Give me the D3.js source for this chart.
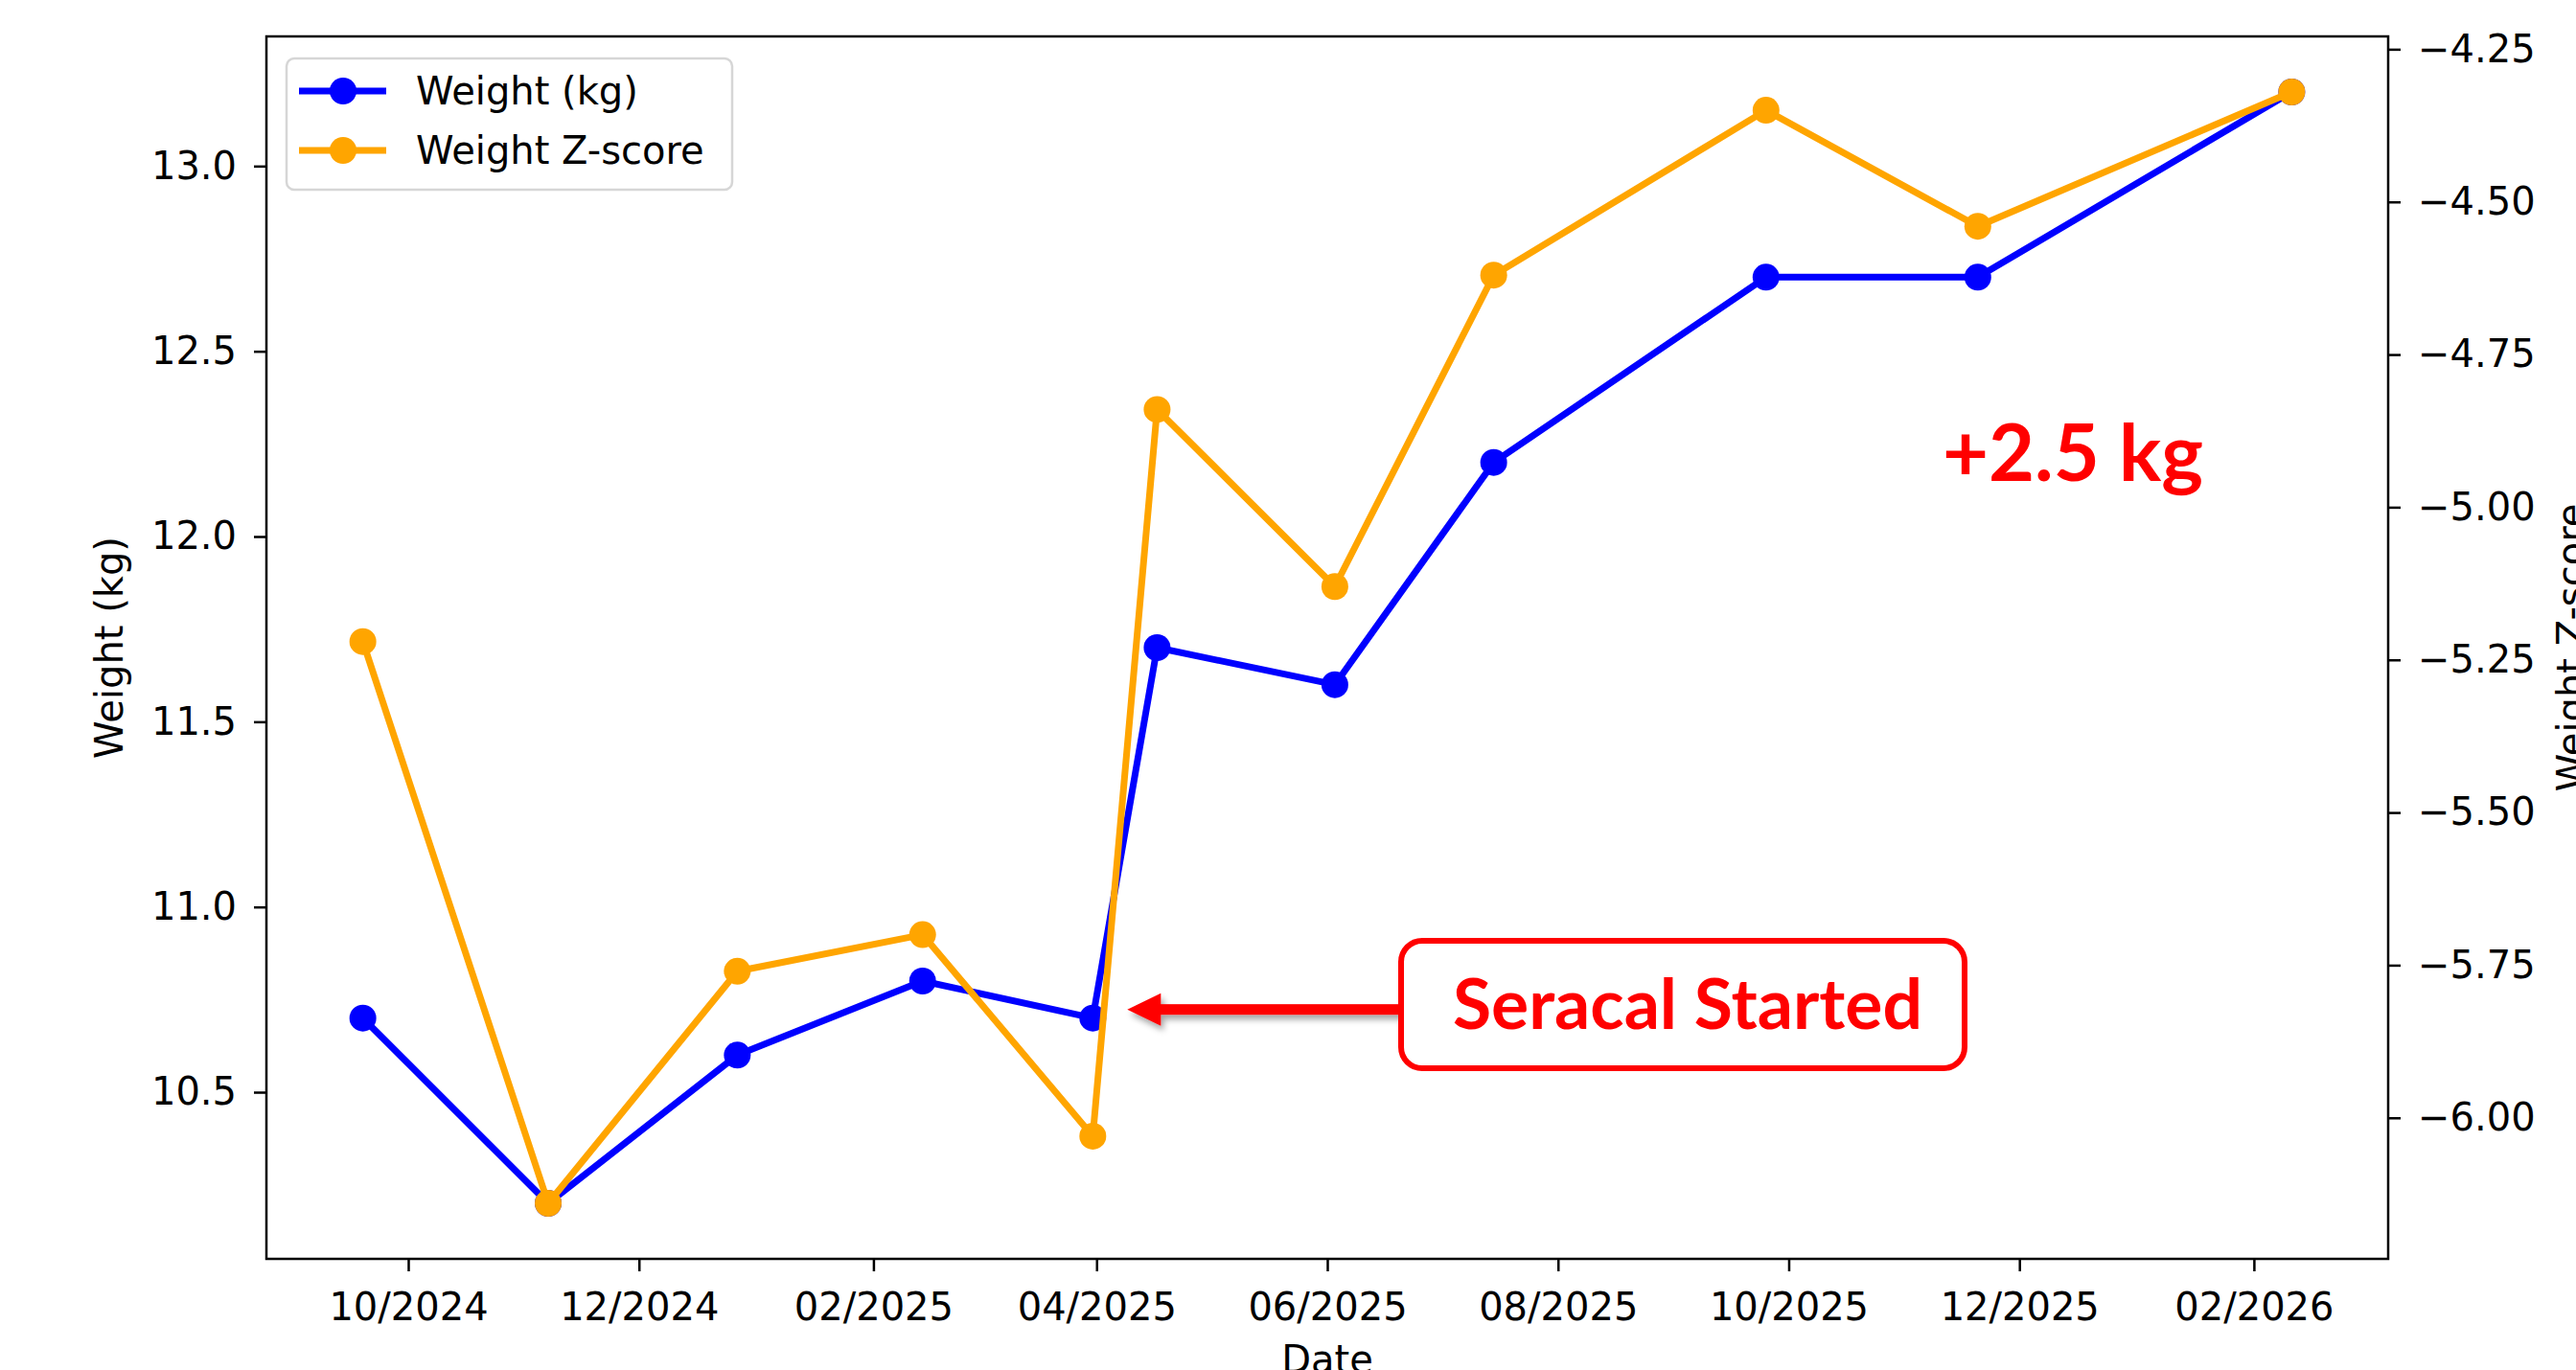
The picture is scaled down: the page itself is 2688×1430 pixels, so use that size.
<!DOCTYPE html>
<html>
<head>
    <meta charset="utf-8">
    <title>Weight chart</title>
    <script src="https://d3js.org/d3.v7.min.js"></script>
    <style>
      body { margin: 0; background: #fff; }
    </style>
</head>
<body>
    <div id="chart"></div>
    <script>

// data
const dates = ["2024-09-19", "2024-11-07", "2024-12-27", "2025-02-14", "2025-03-31", "2025-04-17",
               "2025-06-03", "2025-07-15", "2025-09-25", "2025-11-20", "2026-02-11"];
const weights = [10.7, 10.2, 10.6, 10.8, 10.7, 11.7, 11.6, 12.2, 12.7, 12.7, 13.2];
const zscores = [-5.22, -6.14, -5.76, -5.70, -6.03, -4.84, -5.13, -4.62, -4.35, -4.54, -4.32];

const xTicks = ["2024-10-01", "2024-12-01", "2025-02-01", "2025-04-01", "2025-06-01",
                "2025-08-01", "2025-10-01", "2025-12-01", "2026-02-01"];
const leftTicks = [10.5, 11.0, 11.5, 12.0, 12.5, 13.0];
const rightTicks = [-6.00, -5.75, -5.50, -5.25, -5.00, -4.75, -4.50, -4.25];
const seriesNames = ["Weight (kg)", "Weight Z-score"];
const noteText = "Seracal Started";
const gainText = "+2.5 kg";

const width = 2688, height = 1430;
const plotL = 278, plotR = 2492, plotT = 38, plotB = 1314;
const font = "DejaVu Sans, sans-serif";
const fs = 40;
const blue = "#0000ff", orange = "#ffa500", red = "#ff0000";

const parse = d3.utcParse("%Y-%m-%d");
const rows = dates.map((d, i) => ({date: parse(d), w: weights[i], z: zscores[i]}));

// matplotlib style 5% margins
function padded(ext) {
  const m = (ext[1] - ext[0]) * 0.05;
  return [ext[0] - m, ext[1] + m];
}
const tExt = d3.extent(rows, d => +d.date);
const x = d3.scaleUtc().domain(padded(tExt).map(t => new Date(t))).range([plotL, plotR]);
const y = d3.scaleLinear().domain(padded(d3.extent(weights))).range([plotB, plotT]);
const y2 = d3.scaleLinear().domain(padded(d3.extent(zscores))).range([plotB, plotT]);

const svg = d3.create("svg")
    .attr("width", width)
    .attr("height", height)
    .attr("viewBox", [0, 0, width, height])
    .attr("font-family", font);

svg.append("rect").attr("width", width).attr("height", height).attr("fill", "#fff");

const defs = svg.append("defs");
defs.append("filter").attr("id", "shadow")
    .attr("x", "-20%").attr("y", "-50%").attr("width", "140%").attr("height", "200%")
  .append("feDropShadow")
    .attr("dx", 3).attr("dy", 5).attr("stdDeviation", 3)
    .attr("flood-color", "#000").attr("flood-opacity", 0.35);

// axes
const axL = svg.append("g")
    .attr("transform", `translate(${plotL},0)`)
    .call(d3.axisLeft(y).tickValues(leftTicks).tickFormat(d3.format(".1f")).tickSize(13).tickPadding(18));
const axR = svg.append("g")
    .attr("transform", `translate(${plotR},0)`)
    .call(d3.axisRight(y2).tickValues(rightTicks).tickFormat(d3.format(".2f")).tickSize(13).tickPadding(18));
const axB = svg.append("g")
    .attr("transform", `translate(0,${plotB})`)
    .call(d3.axisBottom(x).tickValues(xTicks.map(parse)).tickFormat(d3.utcFormat("%m/%Y")).tickSize(13).tickPadding(23));

for (const ax of [axL, axR, axB]) {
  ax.select(".domain").remove();
  ax.selectAll(".tick line").attr("stroke", "#000").attr("stroke-width", 2.5);
  ax.selectAll(".tick text").attr("font-family", font).attr("font-size", fs).attr("fill", "#000");
}

// axis titles (cut by the edge, as in the source image)
svg.append("text")
    .attr("transform", `translate(128,${(plotT + plotB) / 2}) rotate(-90)`)
    .attr("text-anchor", "middle")
    .attr("font-size", fs)
    .text(seriesNames[0]);
svg.append("text")
    .attr("transform", `translate(2697,${(plotT + plotB) / 2}) rotate(-90)`)
    .attr("text-anchor", "middle")
    .attr("font-size", fs)
    .text(seriesNames[1]);
svg.append("text")
    .attr("x", (plotL + plotR) / 2)
    .attr("y", 1433)
    .attr("text-anchor", "middle")
    .attr("font-size", fs)
    .text("Date");

// series
const lineW = d3.line().x(d => x(d.date)).y(d => y(d.w));
const lineZ = d3.line().x(d => x(d.date)).y(d => y2(d.z));

svg.append("path").datum(rows)
    .attr("fill", "none").attr("stroke", blue).attr("stroke-width", 7)
    .attr("stroke-linejoin", "round")
    .attr("d", lineW);
svg.append("g").selectAll("circle").data(rows).join("circle")
    .attr("cx", d => x(d.date)).attr("cy", d => y(d.w)).attr("r", 14).attr("fill", blue);

svg.append("path").datum(rows)
    .attr("fill", "none").attr("stroke", orange).attr("stroke-width", 7)
    .attr("stroke-linejoin", "round")
    .attr("d", lineZ);
svg.append("g").selectAll("circle").data(rows).join("circle")
    .attr("cx", d => x(d.date)).attr("cy", d => y2(d.z)).attr("r", 14).attr("fill", orange);

// frame
svg.append("rect")
    .attr("x", plotL).attr("y", plotT)
    .attr("width", plotR - plotL).attr("height", plotB - plotT)
    .attr("fill", "none").attr("stroke", "#000").attr("stroke-width", 2.5);

// legend
const lg = svg.append("g");
lg.append("rect")
    .attr("x", 299).attr("y", 61).attr("width", 465).attr("height", 137).attr("rx", 8)
    .attr("fill", "#fff").attr("fill-opacity", 0.8)
    .attr("stroke", "#d6d6d6").attr("stroke-width", 2.5);
[blue, orange].forEach((c, i) => {
  const cy = 95 + i * 62;
  lg.append("line").attr("x1", 312).attr("x2", 403).attr("y1", cy).attr("y2", cy)
      .attr("stroke", c).attr("stroke-width", 7);
  lg.append("circle").attr("cx", 358).attr("cy", cy).attr("r", 14).attr("fill", c);
  lg.append("text").attr("x", 434).attr("y", cy).attr("dy", "0.36em")
      .attr("font-size", fs).text(seriesNames[i]);
});

// callout: arrow pointing at the start point
const start = rows[4];
const tipX = x(start.date) + 36, tipY = y(start.w) - 9;
const boxX = 1462, boxY = 982, boxW = 588, boxH = 133;

const arrow = svg.append("g").attr("filter", "url(#shadow)");
arrow.append("rect")
    .attr("x", tipX + 30).attr("y", tipY - 5.5)
    .attr("width", boxX - tipX - 30).attr("height", 11)
    .attr("fill", red);
arrow.append("path")
    .attr("d", `M${tipX},${tipY} L${tipX + 35},${tipY - 17} L${tipX + 35},${tipY + 17} Z`)
    .attr("fill", red);

svg.append("rect")
    .attr("x", boxX).attr("y", boxY).attr("width", boxW).attr("height", boxH).attr("rx", 22)
    .attr("fill", "#fff").attr("stroke", red).attr("stroke-width", 6);
svg.append("text")
    .attr("x", 1516).attr("y", 1074)
    .attr("font-family", "Lato, sans-serif").attr("font-weight", "bold")
    .attr("font-size", 72)
    .attr("textLength", 490).attr("lengthAdjust", "spacingAndGlyphs")
    .attr("fill", red)
    .text(noteText);

svg.append("text")
    .attr("x", 2027).attr("y", 502)
    .attr("font-family", "Lato, sans-serif").attr("font-weight", "bold")
    .attr("font-size", 83)
    .attr("textLength", 272).attr("lengthAdjust", "spacingAndGlyphs")
    .attr("fill", red)
    .text(gainText);

document.getElementById('chart').appendChild(svg.node());

    </script>
</body>
</html>
